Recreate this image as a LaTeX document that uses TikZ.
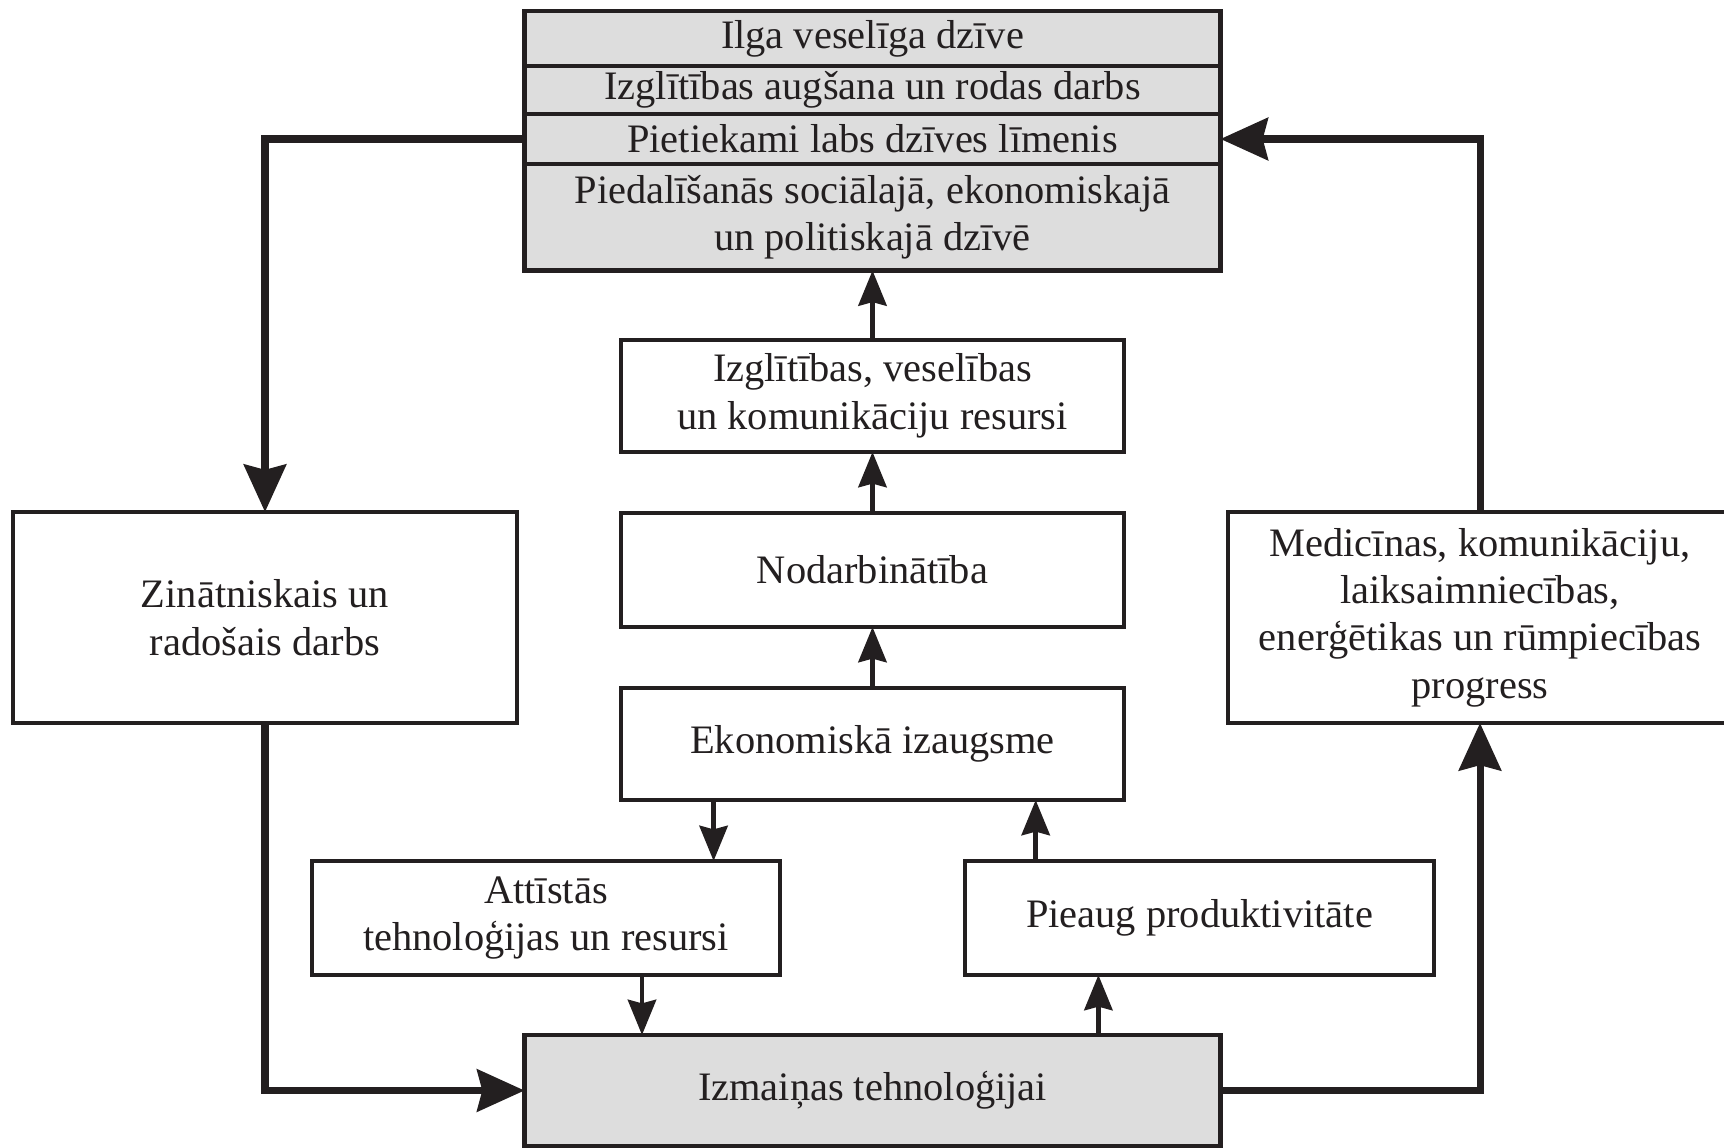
\documentclass[tikz,border=0pt]{standalone}
\usepackage{fontspec}
\setmainfont{Liberation Serif}
\usetikzlibrary{arrows.meta,positioning}
\definecolor{ink}{RGB}{35,31,32}
\definecolor{boxgray}{RGB}{221,221,221}

\begin{document}
\begin{tikzpicture}[x=0.02cm, y=-0.02cm,
  box/.style={draw=ink, line width=2.8pt, fill=white, align=center, inner sep=0pt, outer sep=0pt,
    text=ink, font=\fontsize{23}{27}\selectfont},
  graybox/.style={box, fill=boxgray},
  link/.style={draw=ink, line width=2.8pt, -{Stealth[length=20pt,width=16pt,inset=2pt]}},
  loop/.style={draw=ink, line width=4pt, -{Stealth[length=27pt,width=24pt,inset=3pt]}}]
\def\pxw{0.02}
\useasboundingbox (0,0) rectangle (1724,1148);

% goals on top
\node[graybox, minimum width=696*\pxw cm, minimum height=55*\pxw cm] (life) at (872.5,38.5) {Ilga veselīga dzīve};
\node[graybox, minimum width=696*\pxw cm, minimum height=48*\pxw cm] (edu) at (872.5,90) {Izglītības augšana un rodas darbs};
\node[graybox, minimum width=696*\pxw cm, minimum height=50*\pxw cm] (living) at (872.5,139) {Pietiekami labs dzīves līmenis};
\node[graybox, minimum width=696*\pxw cm, minimum height=106.5*\pxw cm] (partic) at (872.5,217.25) {Piedalīšanās sociālajā, ekonomiskajā\\un politiskajā dzīvē};

% middle column
\node[box, minimum width=503*\pxw cm, minimum height=112*\pxw cm] (res) at (872.5,396) {Izglītības, veselības\\un komunikāciju resursi};
\node[box, minimum width=503*\pxw cm, minimum height=114*\pxw cm] (nod) at (872.5,570) {Nodarbinātība};
\node[box, minimum width=503*\pxw cm, minimum height=112*\pxw cm] (eko) at (872.5,744) {Ekonomiskā izaugsme};
\node[box, minimum width=468*\pxw cm, minimum height=114*\pxw cm] (att) at (546,918) {Attīstās\\tehnoloģijas un resursi};
\node[box, minimum width=469*\pxw cm, minimum height=114*\pxw cm] (pro) at (1199.5,918) {Pieaug produktivitāte};
\node[graybox, minimum width=696*\pxw cm, minimum height=111*\pxw cm] (izm) at (872.5,1090.5) {Izmaiņas tehnoloģijai};

% side boxes
\node[box, minimum width=504*\pxw cm, minimum height=211*\pxw cm] (zin) at (265,617.5) {Zinātniskais un\\radošais darbs};
\node[box, minimum width=504*\pxw cm, minimum height=211*\pxw cm] (med) at (1480,617.5) {Medicīnas, komunikāciju,\\laiksaimniecības,\\enerģētikas un rūmpiecības\\progress};

% x positions of the short arrows
\coordinate (downA) at (713.6,0);
\coordinate (downB) at (642,0);
\coordinate (upA) at (1098.4,0);
\coordinate (upB) at (1035.7,0);

\draw[link] (res.north) -- (partic.south);
\draw[link] (nod.north) -- (res.south);
\draw[link] (eko.north) -- (nod.south);
\draw[link] (eko.south -| downA) -- (att.north -| downA);
\draw[link] (att.south -| downB) -- (izm.north -| downB);
\draw[link] (izm.north -| upA) -- (pro.south -| upA);
\draw[link] (pro.north -| upB) -- (eko.south -| upB);

% outer loop
\draw[loop] (living.west) -| (zin.north);
\draw[loop] (zin.south) |- (izm.west);
\draw[loop] (izm.east) -| (med.south);
\draw[loop] (med.north) |- (living.east);
\end{tikzpicture}
\end{document}
